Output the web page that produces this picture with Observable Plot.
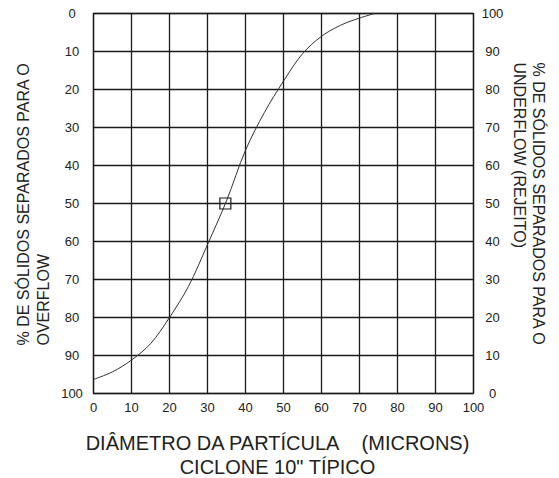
<!DOCTYPE html>
<html><head><meta charset="utf-8">
<script src="https://cdn.jsdelivr.net/npm/d3@7"></script>
<script src="https://cdn.jsdelivr.net/npm/@observablehq/plot@0.6"></script>
<style>html,body{margin:0;padding:0;background:#fff} svg{display:block}</style>
</head><body><div id="chart"></div>
<script>
// Particle diameter (microns) and % of solids to OVERFLOW (left axis)
const diameters   = [0, 5, 10, 15, 20, 25, 30, 35, 40, 45, 50, 55, 60, 65, 70, 74];
const overflowPct = [96.3, 94.3, 91.2, 86.9, 80, 71.8, 60.8, 49.3, 36, 26, 17.8, 10.6, 6, 3.1, 1.2, 0];
// d50 cut point marker
const cutDiameter = [34.7];
const cutOverflow = [50];
// tick values / labels
const xTicks = [0, 10, 20, 30, 40, 50, 60, 70, 80, 90, 100];
const yTicks = [0, 10, 20, 30, 40, 50, 60, 70, 80, 90, 100];
const rightTickLabels = [100, 90, 80, 70, 60, 50, 40, 30, 20, 10, 0];
// titles
const xTitle = ["DIÂMETRO DA PARTÍCULA\u00a0\u00a0\u00a0\u00a0(MICRONS)", "CICLONE 10\" TÍPICO"];
const leftTitle = ["% DE SÓLIDOS SEPARADOS PARA O", "OVERFLOW"];
const rightTitle = ["% DE SÓLIDOS SEPARADOS PARA O", "UNDERFLOW (REJEITO)"];

const curve = diameters.map((d, i) => ({d, p: overflowPct[i]}));
const cut = cutDiameter.map((d, i) => ({d, p: cutOverflow[i]}));
const ink = "#1a1a1a";
const textColor = "#222";

const chart = Plot.plot({
  width: 559,
  height: 478,
  marginLeft: 93,
  marginRight: 86,
  marginTop: 13,
  marginBottom: 85,
  style: {fontFamily: "'Liberation Sans', Arial, sans-serif", fontSize: "13px", color: textColor, background: "#fff"},
  x: {domain: [0, 100], label: null},
  y: {domain: [0, 100], reverse: true, label: null},
  marks: [
    Plot.gridX(xTicks, {stroke: ink, strokeOpacity: 1, strokeWidth: 1.3}),
    Plot.gridY(yTicks, {stroke: ink, strokeOpacity: 1, strokeWidth: 1.3}),
    Plot.frame({stroke: ink, strokeWidth: 1.3}),
    Plot.axisX({anchor: "bottom", ticks: xTicks, tickSize: 0, tickPadding: 9, label: null, fill: textColor}),
    Plot.axisY({anchor: "left", ticks: yTicks, tickSize: 0, tickPadding: 21.5, textAnchor: "middle", label: null, fill: textColor}),
    Plot.axisY({anchor: "right", ticks: yTicks, tickSize: 0, tickPadding: 19, textAnchor: "middle", label: null, fill: textColor,
      tickFormat: d => rightTickLabels[yTicks.indexOf(d)]}),
    Plot.line(curve, {x: "d", y: "p", curve: "catmull-rom", stroke: "#333", strokeWidth: 1}),
    Plot.dot(cut, {x: "d", y: "p", symbol: "square", r: 6.2, stroke: ink, strokeWidth: 1.2, fill: "none"}),
    // left title (two lines, rotated)
    Plot.text([leftTitle[0]], {text: d => d, frameAnchor: "bottom-left", rotate: -90, textAnchor: "start", lineAnchor: "bottom", dx: -65, dy: -48, fontSize: 16, fill: textColor}),
    Plot.text([leftTitle[1]], {text: d => d, frameAnchor: "bottom-left", rotate: -90, textAnchor: "start", lineAnchor: "bottom", dx: -45, dy: -48, fontSize: 16, fill: textColor}),
    // right title
    Plot.text([rightTitle[0]], {text: d => d, frameAnchor: "top-right", rotate: 90, textAnchor: "start", lineAnchor: "bottom", dx: 59, dy: 49, fontSize: 16, fill: textColor}),
    Plot.text([rightTitle[1]], {text: d => d, frameAnchor: "top-right", rotate: 90, textAnchor: "start", lineAnchor: "bottom", dx: 40, dy: 49, fontSize: 16, fill: textColor}),
    // bottom title
    Plot.text([xTitle[0]], {text: d => d, frameAnchor: "bottom", textAnchor: "middle", lineAnchor: "bottom", dx: -6, dy: 56, fontSize: 20, fill: textColor}),
    Plot.text([xTitle[1]], {text: d => d, frameAnchor: "bottom", textAnchor: "middle", lineAnchor: "bottom", dx: -6, dy: 80, fontSize: 20, fill: textColor})
  ]
});
document.getElementById("chart").appendChild(chart);
</script>
</body></html>
